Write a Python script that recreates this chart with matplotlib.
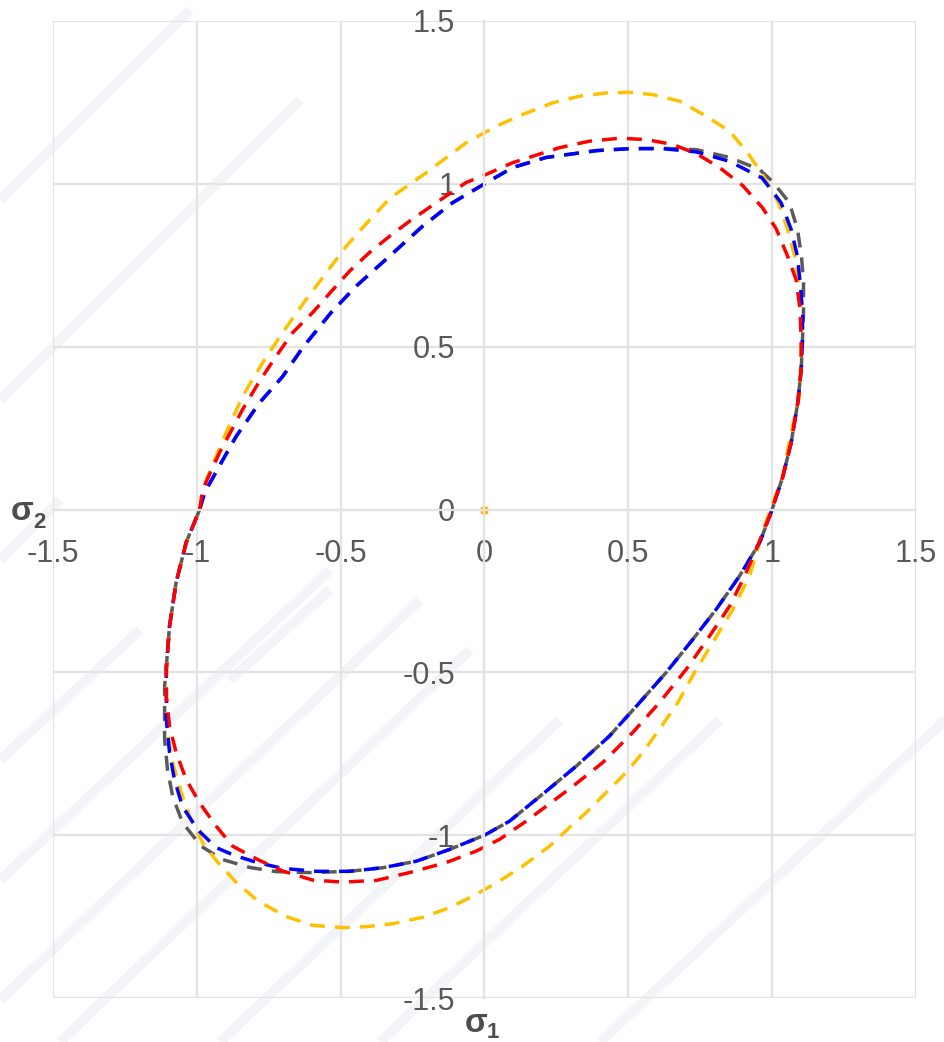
import matplotlib
matplotlib.use("Agg")
import matplotlib.pyplot as plt

plt.rcParams['font.family'] = ['Liberation Sans', 'DejaVu Sans']

# --- yield loci in the (sigma1, sigma2) plane ---

grey_x = [-0.99, -0.973, -0.915, -0.863, -0.782, -0.702, -0.632, -0.533, -0.446, -0.330, -0.215, -0.111,
          0.0, 0.098, 0.214, 0.389, 0.504, 0.620, 0.736, 0.852, 0.956, 1.001, 1.060, 1.088, 1.102, 1.109,
          1.109, 1.105, 1.101, 1.089, 1.066, 1.037, 1.0, 0.957, 0.886, 0.805, 0.724, 0.631, 0.539, 0.434,
          0.319, 0.205, 0.087, 0.0, -0.122, -0.237, -0.354, -0.469, -0.608, -0.724, -0.817, -0.910, -0.985,
          -1.050, -1.084, -1.102, -1.112, -1.112, -1.112, -1.106, -1.095, -1.072, -1.037, -0.99]
grey_y = [0.0, 0.052, 0.144, 0.225, 0.328, 0.408, 0.497, 0.605, 0.686, 0.778, 0.870, 0.942,
          1.0, 1.050, 1.081, 1.102, 1.108, 1.109, 1.105, 1.081, 1.044, 1.007, 0.942, 0.860, 0.777, 0.697,
          0.605, 0.513, 0.430, 0.328, 0.205, 0.101, 0.0, -0.101, -0.205, -0.307, -0.399, -0.501, -0.593, -0.696,
          -0.788, -0.872, -0.957, -1.0, -1.044, -1.080, -1.100, -1.111, -1.115, -1.112, -1.099, -1.075, -1.034,
          -0.961, -0.881, -0.798, -0.706, -0.624, -0.543, -0.482, -0.359, -0.224, -0.101, 0.0]

blue_x = [-0.99, -0.973, -0.915, -0.863, -0.782, -0.702, -0.632, -0.533, -0.446, -0.330, -0.215, -0.111,
          0.0, 0.098, 0.214, 0.389, 0.504, 0.620, 0.736, 0.852, 0.965, 1.031, 1.066, 1.088, 1.097,
          1.106, 1.105, 1.101, 1.089, 1.066, 1.037, 1.0, 0.957, 0.886, 0.805, 0.724, 0.631, 0.539, 0.434,
          0.319, 0.205, 0.087, 0.0, -0.122, -0.237, -0.354, -0.469, -0.585, -0.702, -0.790, -0.870, -0.933,
          -0.997, -1.050, -1.078, -1.095, -1.106, -1.106, -1.095, -1.072, -1.037, -0.99]
blue_y = [0.0, 0.052, 0.144, 0.225, 0.328, 0.408, 0.497, 0.605, 0.686, 0.778, 0.870, 0.942,
          1.0, 1.050, 1.081, 1.102, 1.108, 1.108, 1.098, 1.069, 1.018, 0.942, 0.860, 0.777, 0.697,
          0.605, 0.513, 0.430, 0.328, 0.205, 0.101, 0.0, -0.101, -0.205, -0.307, -0.399, -0.501, -0.593, -0.696,
          -0.788, -0.872, -0.957, -1.0, -1.044, -1.080, -1.100, -1.111, -1.111, -1.102, -1.084, -1.062, -1.038,
          -0.983, -0.912, -0.829, -0.746, -0.645, -0.482, -0.359, -0.224, -0.101, 0.0]

red_x = [-0.99, -0.980, -0.921, -0.841, -0.782, -0.724, -0.667, -0.597, -0.527, -0.469, -0.400, -0.330,
         -0.261, -0.168, -0.064, 0.006, 0.098, 0.261, 0.365, 0.469, 0.562, 0.654, 0.736, 0.817, 0.897,
         0.966, 1.014, 1.054, 1.083, 1.097, 1.101, 1.101, 1.089, 1.066, 1.037, 0.991, 0.944, 0.904, 0.852,
         0.782, 0.701, 0.608, 0.515, 0.411, 0.307, 0.145, 0.052, -0.029, -0.133, -0.261, -0.376, -0.493,
         -0.597, -0.702, -0.788, -0.875, -0.933, -0.991, -1.037, -1.072, -1.095, -1.106, -1.106, -1.095,
         -1.072, -1.037, -0.99]
red_y = [0.0, 0.061, 0.175, 0.307, 0.394, 0.471, 0.543, 0.605, 0.675, 0.732, 0.789, 0.839,
         0.885, 0.942, 1.004, 1.029, 1.065, 1.111, 1.131, 1.140, 1.136, 1.121, 1.093, 1.050, 0.995,
         0.927, 0.862, 0.777, 0.706, 0.614, 0.513, 0.430, 0.328, 0.205, 0.101, -0.020, -0.123, -0.205, -0.297,
         -0.389, -0.491, -0.593, -0.685, -0.777, -0.850, -0.957, -1.013, -1.049, -1.084, -1.115, -1.139, -1.144,
         -1.138, -1.110, -1.075, -1.034, -0.972, -0.900, -0.829, -0.746, -0.665, -0.573, -0.491, -0.359,
         -0.224, -0.101, 0.0]

orange_x = [-0.99, -0.967, -0.898, -0.841, -0.771, -0.702, -0.620, -0.550, -0.481, -0.417, -0.330,
            -0.203, -0.064, 0.041, 0.133, 0.238, 0.330, 0.423, 0.504, 0.585, 0.678, 0.770, 0.852, 0.915,
            0.970, 1.022, 1.054, 1.078, 1.092, 1.101, 1.101, 1.095, 1.071, 1.054, 1.037, 0.973, 0.921,
            0.863, 0.800, 0.736, 0.672, 0.608, 0.550, 0.492, 0.423, 0.353, 0.295, 0.226, 0.133, 0.052,
            -0.029, -0.122, -0.214, -0.319, -0.411, -0.493, -0.597, -0.689, -0.788, -0.863, -0.927, -0.980,
            -1.025, -1.054, -1.084, -1.102, -1.106, -1.106, -1.095, -1.072, -1.037, -0.99]
orange_y = [0.0, 0.092, 0.236, 0.348, 0.451, 0.543, 0.645, 0.727, 0.808, 0.872, 0.955,
            1.034, 1.126, 1.177, 1.213, 1.249, 1.269, 1.279, 1.281, 1.274, 1.254, 1.208, 1.162, 1.095,
            1.023, 0.942, 0.860, 0.778, 0.697, 0.614, 0.513, 0.348, 0.256, 0.184, 0.102, -0.051, -0.205,
            -0.307, -0.399, -0.491, -0.593, -0.675, -0.746, -0.808, -0.869, -0.931, -0.977, -1.034, -1.095, -1.141,
            -1.182, -1.223, -1.252, -1.272, -1.281, -1.284, -1.277, -1.250, -1.202, -1.145, -1.084, -1.023,
            -0.942, -0.869, -0.777, -0.685, -0.593, -0.508, -0.359, -0.224, -0.101, 0.0]

ticks = [-1.5, -1, -0.5, 0, 0.5, 1, 1.5]
tick_labels = ["-1.5", "-1", "-0.5", "0", "0.5", "1", "1.5"]

W, H = 945, 1042
fig = plt.figure(figsize=(W / 100, H / 100), dpi=100)

# very faint diagonal watermark stripes behind the plot
stripes = [((0, 200), (190, 10)), ((0, 400), (300, 100)), ((0, 1000), (420, 600)),
           ((0, 880), (330, 570)), ((60, 1042), (470, 650)), ((0, 760), (140, 630)),
           ((230, 680), (330, 590)), ((380, 1042), (720, 720)), ((0, 560), (60, 500)),
           ((220, 1042), (560, 720)), ((600, 1042), (945, 720))]
for (x0, y0), (x1, y1) in stripes:
    fig.add_artist(plt.Line2D([x0 / W, x1 / W], [1 - y0 / H, 1 - y1 / H], color="#f3f4f7",
                              lw=7, solid_capstyle="butt", zorder=0))

ax = fig.add_axes([53 / W, 1 - 998 / H, (916 - 53) / W, (998 - 21) / H])
ax.patch.set_alpha(0)
ax.set_xlim(-1.5, 1.5)
ax.set_ylim(-1.5, 1.5)

grid_col = "#e3e3e3"
ax.set_xticks(ticks)
ax.set_yticks(ticks)
ax.set_xticklabels(tick_labels)
ax.set_yticklabels(tick_labels)
ax.grid(True, color=grid_col, lw=1.6)
for gl in ax.get_xgridlines() + ax.get_ygridlines():
    gl.set_clip_on(False)
ax.set_axisbelow(True)

for side in ["top", "right"]:
    ax.spines[side].set_visible(False)
ax.spines["left"].set_position(("data", 0))
ax.spines["bottom"].set_position(("data", 0))
ax.spines["left"].set_color(grid_col)
ax.spines["bottom"].set_color(grid_col)
ax.spines["left"].set_linewidth(1.6)
ax.spines["bottom"].set_linewidth(1.6)
ax.tick_params(axis="x", length=0, pad=21, labelsize=22, labelcolor="#595959")
ax.tick_params(axis="y", length=0, pad=21, labelsize=22, labelcolor="#595959")

dash = (4.3, 2.9)
ax.plot(grey_x, grey_y, color="#5a5a5a", lw=2.5, dashes=dash)
ax.plot(orange_x, orange_y, color="#FFC000", lw=2.5, dashes=dash)
ax.plot(blue_x, blue_y, color="#0000FF", lw=2.5, dashes=dash)
ax.plot(red_x, red_y, color="#FF0000", lw=2.5, dashes=dash)
ax.plot([0], [0], marker="s", ms=4, color="#FFB000", mec="#FFB000")

# axis titles
lab = dict(color="#4d4d4d", fontweight="bold", ha="center", va="center")
fig.text(22 / W, 1 - 511 / H, "σ", fontsize=24, **lab)
fig.text(39 / W, 1 - 523 / H, "2", fontsize=16, **lab)
fig.text(476 / W, 1 - 1023 / H, "σ", fontsize=24, **lab)
fig.text(493 / W, 1 - 1032 / H, "1", fontsize=16, **lab)

fig.savefig("out.png", dpi=100)
